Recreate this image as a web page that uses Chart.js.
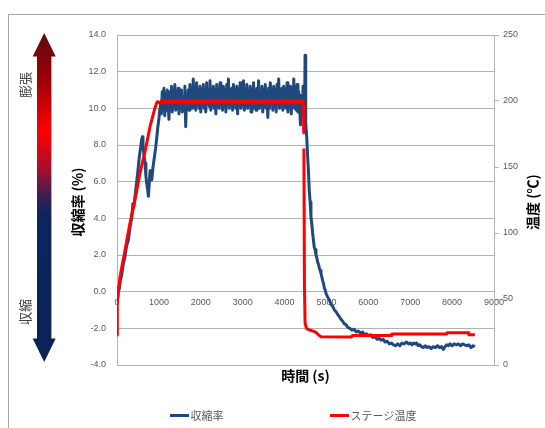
<!DOCTYPE html>
<html>
<head>
<meta charset="utf-8">
<script src="https://cdn.jsdelivr.net/npm/chart.js@4.4.1/dist/chart.umd.min.js"></script>
<style>
  html, body { margin: 0; padding: 0; background: #fff; }
  canvas { display: block; }
</style>
</head>
<body>
<canvas id="chart" width="545" height="428"></canvas>
<script>
// 収縮率 (%) - 左軸
const shrinkTime = [
  0, 20, 50, 80, 110, 150, 190, 230, 270, 310, 350, 380, 400, 430, 470, 500, 530, 560, 590, 605,
  620, 645, 670, 690, 710, 735, 750, 770, 790, 810, 830, 860, 890, 920, 950, 975, 1000, 1020,
  1040, 1060, 1080, 1100, 1120, 1140, 1160, 1180, 1200, 1220,
  1240, 1260, 1280, 1300, 1320, 1340, 1360, 1380, 1400, 1420,
  1440, 1460, 1480, 1500, 1520, 1540, 1560, 1580, 1600, 1620,
  1640, 1660, 1680, 1700, 1720, 1740, 1760, 1780, 1800, 1820,
  1840, 1860, 1880, 1900, 1920, 1940, 1960, 1980, 2000, 2020,
  2040, 2060, 2080, 2100, 2120, 2140, 2160, 2180, 2200, 2220,
  2240, 2260, 2280, 2300, 2320, 2340, 2360, 2380, 2400, 2420,
  2440, 2460, 2480, 2500, 2520, 2540, 2560, 2580, 2600, 2620,
  2640, 2660, 2680, 2700, 2720, 2740, 2760, 2780, 2800, 2820,
  2840, 2860, 2880, 2900, 2920, 2940, 2960, 2980, 3000, 3020,
  3040, 3060, 3080, 3100, 3120, 3140, 3160, 3180, 3200, 3220,
  3240, 3260, 3280, 3300, 3320, 3340, 3360, 3380, 3400, 3420,
  3440, 3460, 3480, 3500, 3520, 3540, 3560, 3580, 3600, 3620,
  3640, 3660, 3680, 3700, 3720, 3740, 3760, 3780, 3800, 3820,
  3840, 3860, 3880, 3900, 3920, 3940, 3960, 3980, 4000, 4020,
  4040, 4060, 4080, 4100, 4120, 4140, 4160, 4180, 4200, 4220,
  4240, 4260, 4280, 4300, 4320, 4340, 4360, 4380, 4400, 4420,
  4440, 4460, 4480,
  4490, 4500, 4510, 4530, 4550, 4570, 4590, 4610, 4630, 4650, 4670, 4690, 4710, 4730, 4750,
  4770, 4790, 4810, 4830, 4850, 4870, 4890, 4910, 4930, 4950, 4970,
  4990, 5030, 5070, 5110, 5150, 5190, 5230, 5270, 5305, 5345, 5385, 5425, 5465, 5510, 5560,
  5610, 5665, 5710, 5760, 5810, 5860, 5910, 5960, 6010, 6060, 6110, 6160, 6210, 6260, 6310,
  6357, 6400, 6450, 6500, 6550, 6600, 6650, 6700, 6754, 6800, 6850, 6914, 6960, 7000, 7040,
  7080, 7120, 7153, 7190, 7230, 7270, 7312, 7360, 7400, 7450, 7500, 7550, 7600, 7650, 7700,
  7750, 7790, 7830, 7870, 7910, 7948, 8000, 8050, 8100, 8150, 8200, 8250, 8300, 8346, 8400,
  8450, 8500, 8544
];
const shrinkRate = [
  -0.3, 0.2, 0.1, 0.6, 0.9, 1.5, 1.9, 2.5, 2.8, 3.5, 4.0, 4.8, 4.6, 5.2, 6.0, 6.6, 7.3, 7.8, 8.3, 8.45,
  8.0, 7.4, 7.0, 6.3, 5.9, 5.5, 5.2, 5.9, 6.6, 6.2, 6.1, 6.8, 7.3, 7.8, 8.4, 9.0, 9.4, 9.9,
  10.2, 9.7, 10.9, 10.1, 11.1, 9.6, 10.8, 9.9, 11.0, 10.3,
  9.4, 10.9, 10.0, 11.2, 9.8, 10.7, 10.2, 11.3, 9.9, 10.8,
  10.0, 11.1, 9.7, 10.9, 10.3, 11.0, 9.8, 10.6, 10.0, 11.2,
  9.0, 10.5, 10.1, 11.0, 9.9, 11.3, 10.2, 10.9, 10.0, 11.6,
  10.1, 11.0, 9.9, 11.4, 10.3, 10.8, 10.0, 11.2, 9.8, 11.0,
  10.2, 11.3, 10.0, 10.9, 9.8, 11.4, 10.3, 11.0, 10.1, 11.5,
  9.9, 10.8, 10.2, 11.2, 10.0, 11.0, 9.7, 11.3, 10.3, 10.9,
  10.0, 11.4, 10.2, 10.8, 9.9, 11.2, 10.1, 11.0, 9.8, 11.3,
  10.3, 11.6, 10.0, 10.9, 10.2, 11.1, 9.9, 11.3, 10.1, 10.8,
  10.0, 11.2, 9.7, 11.0, 10.3, 11.4, 10.0, 10.9, 10.2, 11.5,
  9.9, 11.0, 10.1, 11.3, 10.0, 10.8, 10.3, 11.2, 9.8, 11.0,
  10.2, 11.4, 10.0, 10.9, 9.9, 11.1, 10.2, 11.5, 10.0, 10.8,
  10.3, 11.2, 9.8, 11.0, 10.1, 11.3, 10.0, 10.9, 9.5, 11.1,
  10.0, 11.4, 10.2, 10.8, 9.9, 11.2, 10.1, 11.0, 9.8, 11.3,
  10.2, 11.6, 10.0, 10.9, 10.3, 11.1, 9.9, 11.2, 10.1, 10.8,
  10.0, 11.4, 9.8, 11.0, 10.2, 11.2, 9.7, 10.9, 10.1, 11.6,
  10.0, 11.1, 9.9, 11.3, 9.8, 10.9, 10.1, 9.1, 10.7, 9.6,
  11.2, 9.6, 10.4,
  12.9, 10.8, 9.2, 8.4, 7.4, 6.6, 5.5, 4.9, 4.1, 3.7, 3.2, 2.8, 2.4, 2.3, 2.0,
  1.85, 1.6, 1.5, 1.3, 1.15, 1.0, 0.8, 0.6, 0.45, 0.2, 0.1,
  -0.1, -0.3, -0.45, -0.7, -0.8, -1.0, -1.1, -1.25, -1.35, -1.5, -1.6, -1.75, -1.8, -1.95, -2.0,
  -2.1, -2.05, -2.2, -2.15, -2.25, -2.2, -2.35, -2.3, -2.4, -2.35, -2.5, -2.45, -2.6, -2.55, -2.65,
  -2.6, -2.75, -2.7, -2.85, -2.8, -2.9, -2.95, -2.85, -2.95, -2.8, -2.85, -2.75, -2.85, -2.8, -2.9,
  -2.8, -2.85, -2.8, -2.95, -2.9, -3.0, -3.05, -2.95, -3.05, -3.0, -3.1, -3.0, -3.05, -2.95, -3.05,
  -3.0, -3.15, -3.0, -2.9, -2.95, -2.85, -2.95, -2.85, -2.9, -2.85, -2.95, -2.85, -2.9, -2.95, -2.9,
  -3.05, -2.95, -3.0
];

// ステージ温度 (℃) - 右軸
const stageTime = [
  0, 7, 72, 191, 310, 430, 549, 668, 788, 900, 947,
  970, 1020, 1070, 1120, 1170, 1220, 1270, 1320, 1370, 1420, 1470, 1520, 1570, 1620, 1670, 1720,
  1770, 1820, 1870, 1920, 1970, 2020, 2070, 2120, 2170, 2220, 2270, 2320, 2370, 2420, 2470, 2520,
  2570, 2620, 2670, 2720, 2770, 2820, 2870, 2920, 2970, 3020, 3070, 3120, 3170, 3220, 3270, 3320,
  3370, 3420, 3470, 3520, 3570, 3620, 3670, 3720, 3770, 3820, 3870, 3920, 3970, 4020, 4070, 4120,
  4170, 4220, 4270, 4320, 4370, 4420, 4450, 4458, 4460,
  4462, 4475, 4490, 4520, 4560, 4620, 4700, 4760, 4820, 4870, 5600, 5620, 6550, 6560,
  7870, 7880, 8380, 8400, 8544
];
const stageTemp = [
  22.7, 46.7, 66.9, 87, 107.5, 125, 145.5, 161.6, 180.5, 194, 198.5,
  199.5, 198.3, 200.6, 198.3, 200.6, 198.3, 200.6, 198.3, 200.6, 198.3, 200.6, 198.3, 200.6, 198.3, 200.6, 198.3,
  200.6, 198.3, 200.6, 198.3, 200.6, 198.3, 200.6, 198.3, 200.6, 198.3, 200.6, 198.3, 200.6, 198.3, 200.6, 198.3,
  200.6, 198.3, 200.6, 198.3, 200.6, 198.3, 200.6, 198.3, 200.6, 198.3, 200.6, 198.3, 200.6, 198.3, 200.6, 198.3,
  200.6, 198.3, 200.6, 198.3, 200.6, 198.3, 200.6, 198.3, 200.6, 198.3, 200.6, 198.3, 200.6, 198.3, 200.6, 198.3,
  200.6, 198.3, 200.6, 198.3, 200.6, 198.3, 199.5, 176, null,
  164, 60, 32, 28, 27, 26.3, 25.5, 24.5, 22.5, 21.4, 21.2, 22.3, 22.3, 23.5,
  23.5, 24.5, 24.5, 23, 23
];

const seriesNames = ['収縮率', 'ステージ温度'];
const seriesColors = ['#1F497D', '#FF0000'];

const timeTicks = [0, 9000, 1000];      // min, max, step
const rateTicks = [-4, 14, 2];
const tempTicks = [0, 250, 50];

const gridColor = '#B3B3B3';
const labelColor = '#595959';

const decorPlugin = {
  id: 'decor',
  beforeDraw(chart) {
    const ctx = chart.ctx;
    ctx.save();
    ctx.fillStyle = '#fff';
    ctx.fillRect(0, 0, chart.width, chart.height);

    // 外枠
    ctx.strokeStyle = '#A6A6A6';
    ctx.lineWidth = 1;
    ctx.strokeRect(8.5, 14.5, chart.width, chart.height);

    // 膨張 / 収縮 の矢印
    const cx = 44.2, top = 33, bot = 362, headH = 23.5, headW = 11.5, shaftW = 7.2;
    const g = ctx.createLinearGradient(0, top, 0, bot);
    g.addColorStop(0, '#5E0A10');
    g.addColorStop(0.14, '#9A0008');
    g.addColorStop(0.3, '#FF0000');
    g.addColorStop(0.42, '#A01030');
    g.addColorStop(0.49, '#40204E');
    g.addColorStop(0.55, '#0E2460');
    g.addColorStop(1, '#0B2258');
    ctx.fillStyle = g;
    ctx.beginPath();
    ctx.moveTo(cx, top);
    ctx.lineTo(cx + headW, top + headH);
    ctx.lineTo(cx + shaftW, top + headH);
    ctx.lineTo(cx + shaftW, bot - headH);
    ctx.lineTo(cx + headW, bot - headH);
    ctx.lineTo(cx, bot);
    ctx.lineTo(cx - headW, bot - headH);
    ctx.lineTo(cx - shaftW, bot - headH);
    ctx.lineTo(cx - shaftW, top + headH);
    ctx.lineTo(cx - headW, top + headH);
    ctx.closePath();
    ctx.fill();

    ctx.fillStyle = '#404040';
    ctx.font = '13px "Noto Sans CJK JP"';
    ctx.textAlign = 'center';
    ctx.textBaseline = 'middle';
    [['膨張', 85], ['収縮', 312]].forEach(([txt, y]) => {
      ctx.save();
      ctx.translate(25, y);
      ctx.rotate(-Math.PI / 2);
      ctx.fillText(txt, 0, 0);
      ctx.restore();
    });
    ctx.restore();
  },
  afterDraw(chart) {
    const ctx = chart.ctx;
    const area = chart.chartArea;
    ctx.save();
    ctx.fillStyle = '#000';
    ctx.font = 'bold 14px "Noto Sans CJK JP"';
    ctx.textAlign = 'center';
    ctx.textBaseline = 'middle';

    // 軸タイトル
    ctx.fillText('時間 (s)', (area.left + area.right) / 2, 376);
    [['収縮率 (%)', 78], ['温度 (℃)', 533]].forEach(([txt, x]) => {
      ctx.save();
      ctx.translate(x, 202);
      ctx.rotate(-Math.PI / 2);
      ctx.fillText(txt, 0, 0);
      ctx.restore();
    });

    // 凡例
    const legendX = [170, 330];
    ctx.font = '11px "Noto Sans CJK JP"';
    ctx.textAlign = 'left';
    chart.data.datasets.forEach((ds, i) => {
      const x = legendX[i], y = 415.5;
      ctx.strokeStyle = ds.borderColor;
      ctx.lineWidth = 3;
      ctx.beginPath();
      ctx.moveTo(x, y);
      ctx.lineTo(x + 19, y);
      ctx.stroke();
      ctx.fillStyle = labelColor;
      ctx.fillText(ds.label, x + 20.5, y);
    });
    ctx.restore();
  }
};

const ctx = document.getElementById('chart').getContext('2d');

new Chart(ctx, {
  type: 'line',
  data: {
    datasets: [
      {
        label: seriesNames[0],
        data: shrinkTime.map((t, i) => ({ x: t, y: shrinkRate[i] })),
        borderColor: seriesColors[0],
        borderWidth: 3,
        yAxisID: 'y',
        order: 2,
      },
      {
        label: seriesNames[1],
        data: stageTime.map((t, i) => ({ x: t, y: stageTemp[i] })),
        borderColor: seriesColors[1],
        borderWidth: 3,
        yAxisID: 'y2',
        spanGaps: false,
        order: 1,
      },
    ],
  },
  options: {
    responsive: false,
    animation: false,
    devicePixelRatio: 1,
    layout: {
      padding: { left: 0, right: 0, top: 35, bottom: 63 },
    },
    elements: {
      point: { radius: 0 },
      line: { tension: 0, borderJoinStyle: 'round', borderCapStyle: 'butt' },
    },
    plugins: {
      legend: { display: false },
      tooltip: { enabled: false },
    },
    scales: {
      x: {
        type: 'linear',
        position: { y: 0 },
        min: timeTicks[0],
        max: timeTicks[1],
        afterFit: (s) => { s.height = 0; },
        ticks: {
          stepSize: timeTicks[2],
          color: labelColor,
          font: { family: 'Liberation Sans', size: 9 },
          padding: 5,
          maxRotation: 0,
          callback: (v) => String(v),
        },
        grid: { display: false, drawTicks: false },
        border: { display: false },
      },
      y: {
        position: 'left',
        min: rateTicks[0],
        max: rateTicks[1],
        afterFit: (s) => { s.width = 117; },
        ticks: {
          stepSize: rateTicks[2],
          color: labelColor,
          font: { family: 'Liberation Sans', size: 9 },
          padding: 11,
          callback: (v) => v.toFixed(1),
        },
        grid: { color: gridColor, drawTicks: false },
        border: { display: true, color: gridColor },
      },
      y2: {
        position: 'right',
        min: tempTicks[0],
        max: tempTicks[1],
        afterFit: (s) => { s.width = 51; },
        ticks: {
          stepSize: tempTicks[2],
          color: labelColor,
          font: { family: 'Liberation Sans', size: 9 },
          padding: 4,
        },
        grid: { drawOnChartArea: false, drawTicks: true, tickLength: 5, color: gridColor },
        border: { display: true, color: gridColor },
      },
    },
  },
  plugins: [decorPlugin],
});
</script>
</body>
</html>
